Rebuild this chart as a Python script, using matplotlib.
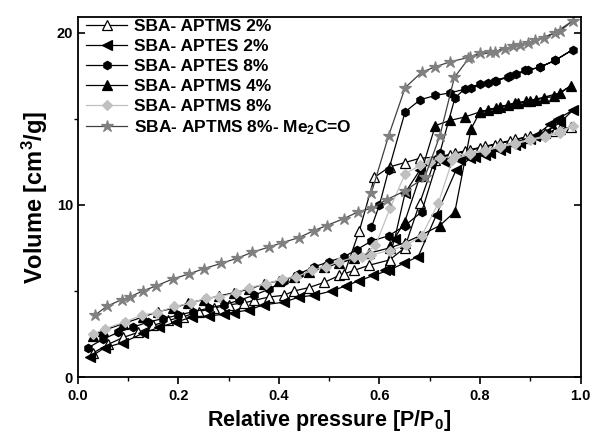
import matplotlib
matplotlib.use('Agg')
import matplotlib.pyplot as plt
from matplotlib.ticker import MultipleLocator

plt.rcParams['font.family'] = ['Liberation Sans', 'DejaVu Sans']
plt.rcParams['font.weight'] = 'bold'
plt.rcParams['mathtext.fontset'] = 'custom'
plt.rcParams['mathtext.rm'] = 'Liberation Sans:bold'
plt.rcParams['mathtext.bf'] = 'Liberation Sans:bold'
plt.rcParams['mathtext.it'] = 'Liberation Sans:bold'

# SBA- APTMS 2% (open triangles): adsorption then desorption
aptms2_p = [0.03, 0.06, 0.09, 0.12, 0.15, 0.18, 0.21, 0.24, 0.27, 0.30, 0.33, 0.35, 0.38,
            0.41, 0.43, 0.46, 0.49, 0.52, 0.55, 0.58, 0.62, 0.65, 0.68, 0.71, 0.74, 0.77,
            0.80, 0.83, 0.86, 0.89, 0.92, 0.95, 0.98,
            0.96, 0.93, 0.90, 0.87, 0.84, 0.81, 0.78, 0.75, 0.72, 0.68, 0.65, 0.62, 0.59,
            0.56, 0.53]
aptms2_v = [1.4, 1.9, 2.3, 2.6, 3.0, 3.3, 3.5, 3.8, 4.0, 4.2, 4.3, 4.45, 4.65,
            4.75, 5.0, 5.2, 5.5, 5.9, 6.2, 6.5, 6.8, 7.5, 10.1, 12.6, 12.9, 13.1,
            13.3, 13.5, 13.7, 13.9, 14.1, 14.3, 14.5,
            14.4, 14.2, 14.0, 13.8, 13.6, 13.4, 13.2, 13.0, 12.8, 12.7, 12.45, 12.2, 11.6,
            8.5, 6.0]

# SBA- APTES 2% (left triangles)
aptes2_p = [0.024, 0.053, 0.089, 0.13, 0.162, 0.196, 0.228, 0.26, 0.29, 0.31, 0.34, 0.37,
            0.41, 0.44, 0.47, 0.505, 0.533, 0.56, 0.588, 0.618, 0.648, 0.677, 0.713, 0.752,
            0.78, 0.81, 0.84, 0.87, 0.90, 0.93, 0.96, 0.985,
            0.955, 0.94, 0.91, 0.88, 0.85, 0.82, 0.79, 0.76, 0.73, 0.70, 0.68, 0.651, 0.63,
            0.61]
aptes2_v = [1.15, 1.7, 2.0, 2.55, 2.9, 3.2, 3.5, 3.55, 3.65, 3.75, 3.9, 4.2,
            4.35, 4.65, 4.75, 5.0, 5.3, 5.6, 5.9, 6.2, 6.6, 7.0, 9.4, 12.0,
            12.7, 12.9, 13.2, 13.5, 13.8, 14.2, 14.8, 15.5,
            15.0, 14.7, 14.0, 13.6, 13.3, 13.0, 12.8, 12.6, 12.5, 12.4, 12.0, 10.7, 8.0,
            6.2]

# SBA- APTES 8% (hexagons)
aptes8_p = [0.02, 0.05, 0.08, 0.11, 0.14, 0.17, 0.20, 0.23, 0.26, 0.29, 0.32, 0.35, 0.38,
            0.41, 0.44, 0.47, 0.50, 0.53, 0.555, 0.584, 0.618, 0.651, 0.684, 0.72, 0.75,
            0.77, 0.80, 0.83, 0.86, 0.89, 0.92, 0.95, 0.984,
            0.95, 0.92, 0.895, 0.871, 0.855, 0.832, 0.816, 0.782, 0.74, 0.711, 0.681, 0.651,
            0.618, 0.60, 0.584]
aptes8_v = [1.7, 2.2, 2.6, 2.9, 3.2, 3.4, 3.6, 3.8, 4.0, 4.2, 4.45, 4.75, 5.1,
            5.6, 6.0, 6.4, 6.7, 7.0, 7.4, 7.9, 8.2, 8.8, 9.6, 13.0, 16.2,
            16.75, 17.0, 17.2, 17.5, 17.8, 18.0, 18.4, 19.0,
            18.4, 18.0, 17.8, 17.6, 17.4, 17.2, 17.1, 16.8, 16.5, 16.35, 16.1, 15.4,
            12.0, 10.0, 8.7]

# SBA- APTMS 4% (filled up triangles)
aptms4_p = [0.03, 0.05, 0.09, 0.13, 0.16, 0.19, 0.22, 0.25, 0.28, 0.31, 0.34, 0.37, 0.40,
            0.43, 0.46, 0.49, 0.52, 0.55, 0.58, 0.62, 0.65, 0.68, 0.72, 0.75, 0.782, 0.80,
            0.816, 0.832, 0.855, 0.875, 0.891, 0.911, 0.928, 0.948, 0.98,
            0.96, 0.90, 0.87, 0.84, 0.80, 0.77, 0.74, 0.711, 0.681, 0.65, 0.62]
aptms4_v = [2.4, 2.7, 3.1, 3.5, 3.8, 4.0, 4.3, 4.5, 4.7, 4.9, 5.1, 5.4, 5.6,
            5.8, 6.1, 6.4, 6.6, 6.9, 7.2, 7.5, 7.8, 8.2, 8.8, 9.6, 14.4, 15.4,
            15.5, 15.6, 15.8, 15.9, 16.0, 16.1, 16.2, 16.3, 16.9,
            16.5, 16.05, 15.9, 15.7, 15.4, 15.1, 14.9, 14.6, 11.7, 9.0, 7.6]

# SBA- APTMS 8% (grey diamonds)
aptms8_p = [0.03, 0.053, 0.093, 0.127, 0.157, 0.192, 0.226, 0.255, 0.281, 0.315, 0.34, 0.374,
            0.406, 0.433, 0.466, 0.493, 0.519, 0.55, 0.584, 0.62, 0.653, 0.684, 0.717, 0.745,
            0.78, 0.81, 0.84, 0.87, 0.90, 0.93, 0.96, 0.985,
            0.96, 0.93, 0.90, 0.87, 0.84, 0.81, 0.78, 0.75, 0.72, 0.70, 0.681, 0.651, 0.621,
            0.592, 0.565]
aptms8_v = [2.5, 2.8, 3.2, 3.6, 3.75, 4.1, 4.3, 4.6, 4.65, 4.9, 5.2, 5.4,
            5.7, 5.8, 6.2, 6.4, 6.7, 6.95, 7.1, 7.35, 7.65, 8.2, 10.1, 12.6,
            12.95, 13.15, 13.35, 13.55, 13.75, 13.95, 14.2, 14.6,
            14.3, 14.0, 13.8, 13.6, 13.4, 13.2, 13.0, 12.85, 12.7, 12.5, 12.3, 11.8, 9.8,
            7.65, 7.0]

# SBA- APTMS 8%- Me2C=O (grey stars)
acetone_p = [0.034, 0.057, 0.087, 0.103, 0.129, 0.156, 0.189, 0.222, 0.251, 0.285, 0.317,
             0.347, 0.38, 0.406, 0.44, 0.469, 0.495, 0.529, 0.558, 0.584, 0.614, 0.65, 0.69,
             0.72, 0.749, 0.78, 0.80, 0.83, 0.865, 0.895, 0.928, 0.95, 0.985,
             0.96, 0.91, 0.88, 0.85, 0.82, 0.776, 0.74, 0.71, 0.684, 0.651, 0.618, 0.584]
acetone_v = [3.6, 4.1, 4.5, 4.65, 5.0, 5.3, 5.7, 6.0, 6.3, 6.6, 6.9,
             7.25, 7.55, 7.8, 8.1, 8.5, 8.8, 9.2, 9.6, 9.8, 10.3, 10.8, 11.6,
             14.0, 17.4, 18.6, 18.8, 18.9, 19.2, 19.4, 19.7, 20.0, 20.7,
             20.1, 19.55, 19.3, 19.05, 18.85, 18.55, 18.3, 18.0, 17.7, 16.8, 14.0, 10.7]

labels = ['SBA- APTMS 2%', 'SBA- APTES 2%', 'SBA- APTES 8%', 'SBA- APTMS 4%',
          'SBA- APTMS 8%', 'SBA- APTMS 8%- Me$_2$C=O']

fig = plt.figure(figsize=(5.9, 4.38), dpi=100)
ax = fig.add_axes([0.132, 0.139, 0.852, 0.822])

# (x, y, marker, face, edge, line colour)
series = [
    (aptms2_p, aptms2_v, '^', 'white', 'black', 'black'),
    (aptes2_p, aptes2_v, '<', 'black', 'black', 'black'),
    (aptes8_p, aptes8_v, 'h', 'black', 'black', 'black'),
    (aptms4_p, aptms4_v, '^', 'black', 'black', 'black'),
    (aptms8_p, aptms8_v, 'D', '#c0c0c0', '#c0c0c0', '#c0c0c0'),
    (acetone_p, acetone_v, '*', '#808080', '#808080', '#404040'),
]

for (p, v, m, fc, ec, lc), lab in zip(series, labels):
    ms = 7 if m in ('^', '<') else 6
    if m == 'D':
        ms = 5.5
    if m == '*':
        ms = 9
    ax.plot(p, v, color=lc, lw=0.9, marker=m, markersize=ms,
            markerfacecolor=fc, markeredgecolor=ec, markeredgewidth=0.9, label=lab)

ax.set_xlim(0, 1.0)
ax.set_ylim(0, 20.9)
ax.xaxis.set_minor_locator(MultipleLocator(0.1))
ax.yaxis.set_major_locator(MultipleLocator(10))
ax.yaxis.set_minor_locator(MultipleLocator(5))
ax.set_xticks([0.0, 0.2, 0.4, 0.6, 0.8, 1.0])
ax.set_xticklabels(['0.0', '0.2', '0.4', '0.6', '0.8', '1.0'])
ax.tick_params(which='major', direction='out', length=5, width=1.2, labelsize=10.5)
ax.tick_params(which='minor', direction='out', length=3, width=1.0)
ax.tick_params(right=True, which='major', axis='y', direction='in')
for s in ax.spines.values():
    s.set_linewidth(1.3)

ax.set_xlabel('Relative pressure [P/P$_0$]', fontsize=15.5, fontweight='bold', labelpad=4)
ax.set_ylabel('Volume [cm$^3$/g]', fontsize=17, fontweight='bold', labelpad=5)

leg = ax.legend(loc='upper left', frameon=False, fontsize=12.5, handlelength=2.4,
                handletextpad=0.35, labelspacing=0.28, borderaxespad=0.2,
                numpoints=1, bbox_to_anchor=(-0.005, 1.025))

fig.savefig('out.png', dpi=100)
